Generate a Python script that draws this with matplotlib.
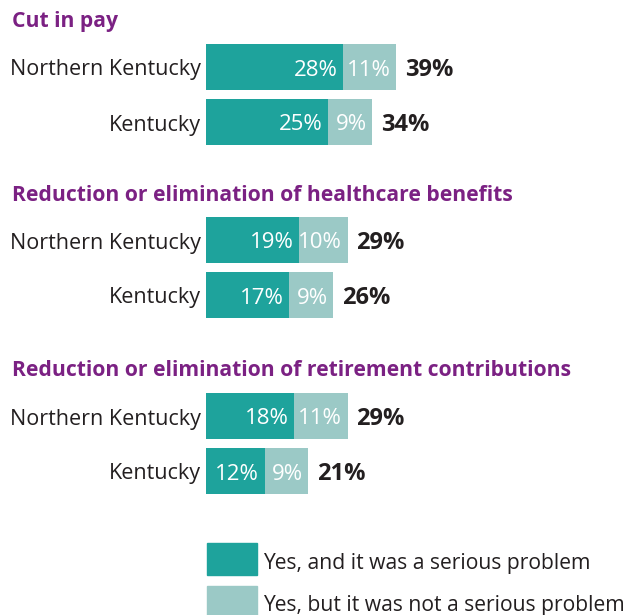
import matplotlib.pyplot as plt
from matplotlib.patches import Rectangle

# data
groups = ['Cut in pay',
          'Reduction or elimination of healthcare benefits',
          'Reduction or elimination of retirement contributions']
regions = ['Northern Kentucky', 'Kentucky']
serious = [[28, 25], [19, 17], [18, 12]]
not_serious = [[11, 9], [10, 9], [11, 9]]
totals = [[39, 34], [29, 26], [29, 21]]
legend_labels = ['Yes, and it was a serious problem',
                 'Yes, but it was not a serious problem']

DARK = '#1ea39c'
LIGHT = '#9bc9c6'
PURPLE = '#7b2183'
TEXT = '#231f20'

plt.rcParams['font.family'] = ['Open Sans', 'DejaVu Sans']

W, H = 625, 615
fig = plt.figure(figsize=(W / 100, H / 100), dpi=100)
x0 = 206          # pixel where the bars start
px_per_pct = 4.88
ax = fig.add_axes([x0 / W, 0, (W - x0) / W, 1])
ax.set_xlim(0, (W - x0) / px_per_pct)
ax.set_ylim(H, 0)
ax.axis('off')

title_y = [20, 193, 369]
row_off = [47, 102]
bar_h = 46
pad = 1.1   # in % units
dy = 3      # text sits a little low in the bars

for g, title in enumerate(groups):
    fig.text(12 / W, 1 - (title_y[g] + 2) / H, title, color=PURPLE,
             fontsize=15.2, fontweight='bold', ha='left', va='center')
    for r, region in enumerate(regions):
        y = title_y[g] + row_off[r]
        s, n, t = serious[g][r], not_serious[g][r], totals[g][r]
        ax.barh(y, s, height=bar_h, color=DARK, left=0)
        ax.barh(y, n, height=bar_h, color=LIGHT, left=s)
        ax.text(-1.0, y + dy, region, ha='right', va='center', fontsize=15.5,
                color=TEXT, clip_on=False)
        ax.text(s - pad, y + dy, f'{s}%', ha='right', va='center',
                fontsize=16, color='white')
        ax.text(s + n - pad, y + dy, f'{n}%', ha='right', va='center',
                fontsize=16, color='white')
        ax.text(s + n + 1.8, y + dy, f'{t}%', ha='left', va='center',
                fontsize=17, fontweight='bold', color=TEXT)

# legend
leg_y = [543, 586]
for i, (lab, col) in enumerate(zip(legend_labels, [DARK, LIGHT])):
    fig.add_artist(Rectangle((207 / W, 1 - (leg_y[i] + 32) / H), 50 / W,
                             32 / H, color=col, transform=fig.transFigure))
    fig.text(263 / W, 1 - (leg_y[i] + 20) / H, lab, fontsize=15.2,
             color=TEXT, ha='left', va='center')

fig.savefig('out.png', dpi=100)
